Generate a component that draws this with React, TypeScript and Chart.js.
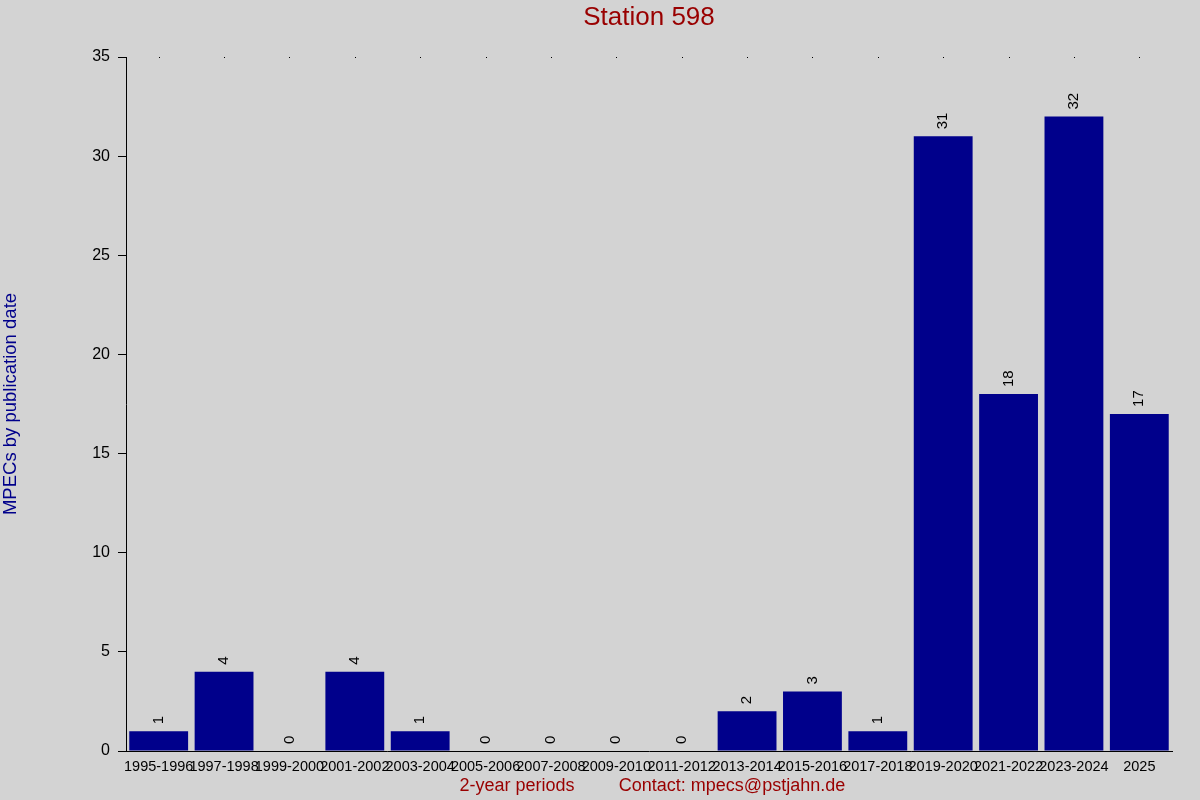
import React, { useEffect, useRef } from "react";
import { Chart, registerables } from "chart.js";

Chart.register(...registerables);

const categories = [
  "1995-1996", "1997-1998", "1999-2000", "2001-2002", "2003-2004", "2005-2006",
  "2007-2008", "2009-2010", "2011-2012", "2013-2014", "2015-2016", "2017-2018",
  "2019-2020", "2021-2022", "2023-2024", "2025",
];
const mpecCounts = [1, 4, 0, 4, 1, 0, 0, 0, 0, 2, 3, 1, 31, 18, 32, 17];
const yTicks = [0, 5, 10, 15, 20, 25, 30, 35];

const titleText = "Station 598";
const yTitleText = "MPECs by publication date";
const xTitleText = "2-year periods";
const contactText = "Contact: mpecs@pstjahn.de";

const FONT = "'Liberation Sans', Arial, sans-serif";

const decorPlugin = {
  id: "decor",
  beforeDraw(chart: any) {
    const ctx = chart.ctx;
    ctx.save();
    ctx.fillStyle = "#d3d3d3";
    ctx.fillRect(0, 0, chart.width, chart.height);
    ctx.restore();
  },
  afterDatasetsDraw(chart: any) {
    const ctx = chart.ctx;
    const area = chart.chartArea;
    const meta = chart.getDatasetMeta(0);
    const xs = chart.scales.x;
    ctx.save();
    // top dots at category centers
    ctx.fillStyle = "#000";
    categories.forEach((_, i) => {
      const x = Math.round(xs.getPixelForValue(i));
      ctx.fillRect(x, Math.round(area.top), 1, 1);
    });
    // value labels
    ctx.font = `15px ${FONT}`;
    ctx.fillStyle = "#000";
    ctx.textAlign = "left";
    ctx.textBaseline = "middle";
    meta.data.forEach((bar: any, i: number) => {
      ctx.save();
      ctx.translate(bar.x, bar.y - 7);
      ctx.rotate(-Math.PI / 2);
      ctx.fillText(String(mpecCounts[i]), 0, 0);
      ctx.restore();
    });
    // title
    ctx.fillStyle = "#990000";
    ctx.font = `26px ${FONT}`;
    ctx.textAlign = "center";
    ctx.textBaseline = "middle";
    ctx.fillText(titleText, (area.left + area.right) / 2, 18);
    // x titles
    ctx.font = `18px ${FONT}`;
    ctx.fillText(xTitleText, 517, 786);
    ctx.fillText(contactText, 732, 786);
    // y title
    ctx.fillStyle = "#00008b";
    ctx.save();
    ctx.translate(11, (area.top + area.bottom) / 2);
    ctx.rotate(-Math.PI / 2);
    ctx.font = `18.5px ${FONT}`;
    ctx.fillText(yTitleText, 0, 0);
    ctx.restore();
    ctx.restore();
  },
};

export default function App() {
  const ref = useRef<HTMLCanvasElement | null>(null);
  useEffect(() => {
    document.body.style.margin = "0";
    document.body.style.background = "#d3d3d3";
    if (!ref.current) return;
    const chart = new Chart(ref.current, {
      type: "bar",
      data: {
        labels: categories,
        datasets: [
          {
            data: mpecCounts,
            backgroundColor: "#00008b",
            borderWidth: 0,
            barPercentage: 0.9,
            categoryPercentage: 1.0,
          },
        ],
      },
      options: {
        animation: false,
        responsive: false,
        devicePixelRatio: 1,
        layout: { padding: { top: 57, right: 28, left: 0, bottom: 0 } },
        plugins: {
          legend: { display: false },
          title: { display: false },
          tooltip: { enabled: false },
        },
        scales: {
          x: {
            grid: { display: false },
            border: { display: true, color: "#000", width: 1 },
            ticks: {
              color: "#000",
              font: { size: 14.5, family: FONT },
              maxRotation: 0,
              minRotation: 0,
              autoSkip: false,
              padding: -1,
            },
            afterFit(scale: any) {
              scale.height = 49;
            },
          },
          y: {
            min: 0,
            max: 35,
            grid: {
              drawOnChartArea: false,
              drawTicks: true,
              tickLength: 8,
              color: "#000",
            },
            border: { display: true, color: "#000", width: 1 },
            afterBuildTicks(scale: any) {
              scale.ticks = yTicks.map((v) => ({ value: v }));
            },
            ticks: {
              color: "#000",
              font: { size: 16, family: FONT },
              padding: 8,
            },
            afterFit(scale: any) {
              scale.width = 126;
            },
          },
        },
      },
      plugins: [decorPlugin],
    });
    return () => chart.destroy();
  }, []);
  return (
    <div style={{ width: 1200, height: 800 }}>
      <canvas ref={ref} width={1200} height={800} style={{ display: "block" }} />
    </div>
  );
}
